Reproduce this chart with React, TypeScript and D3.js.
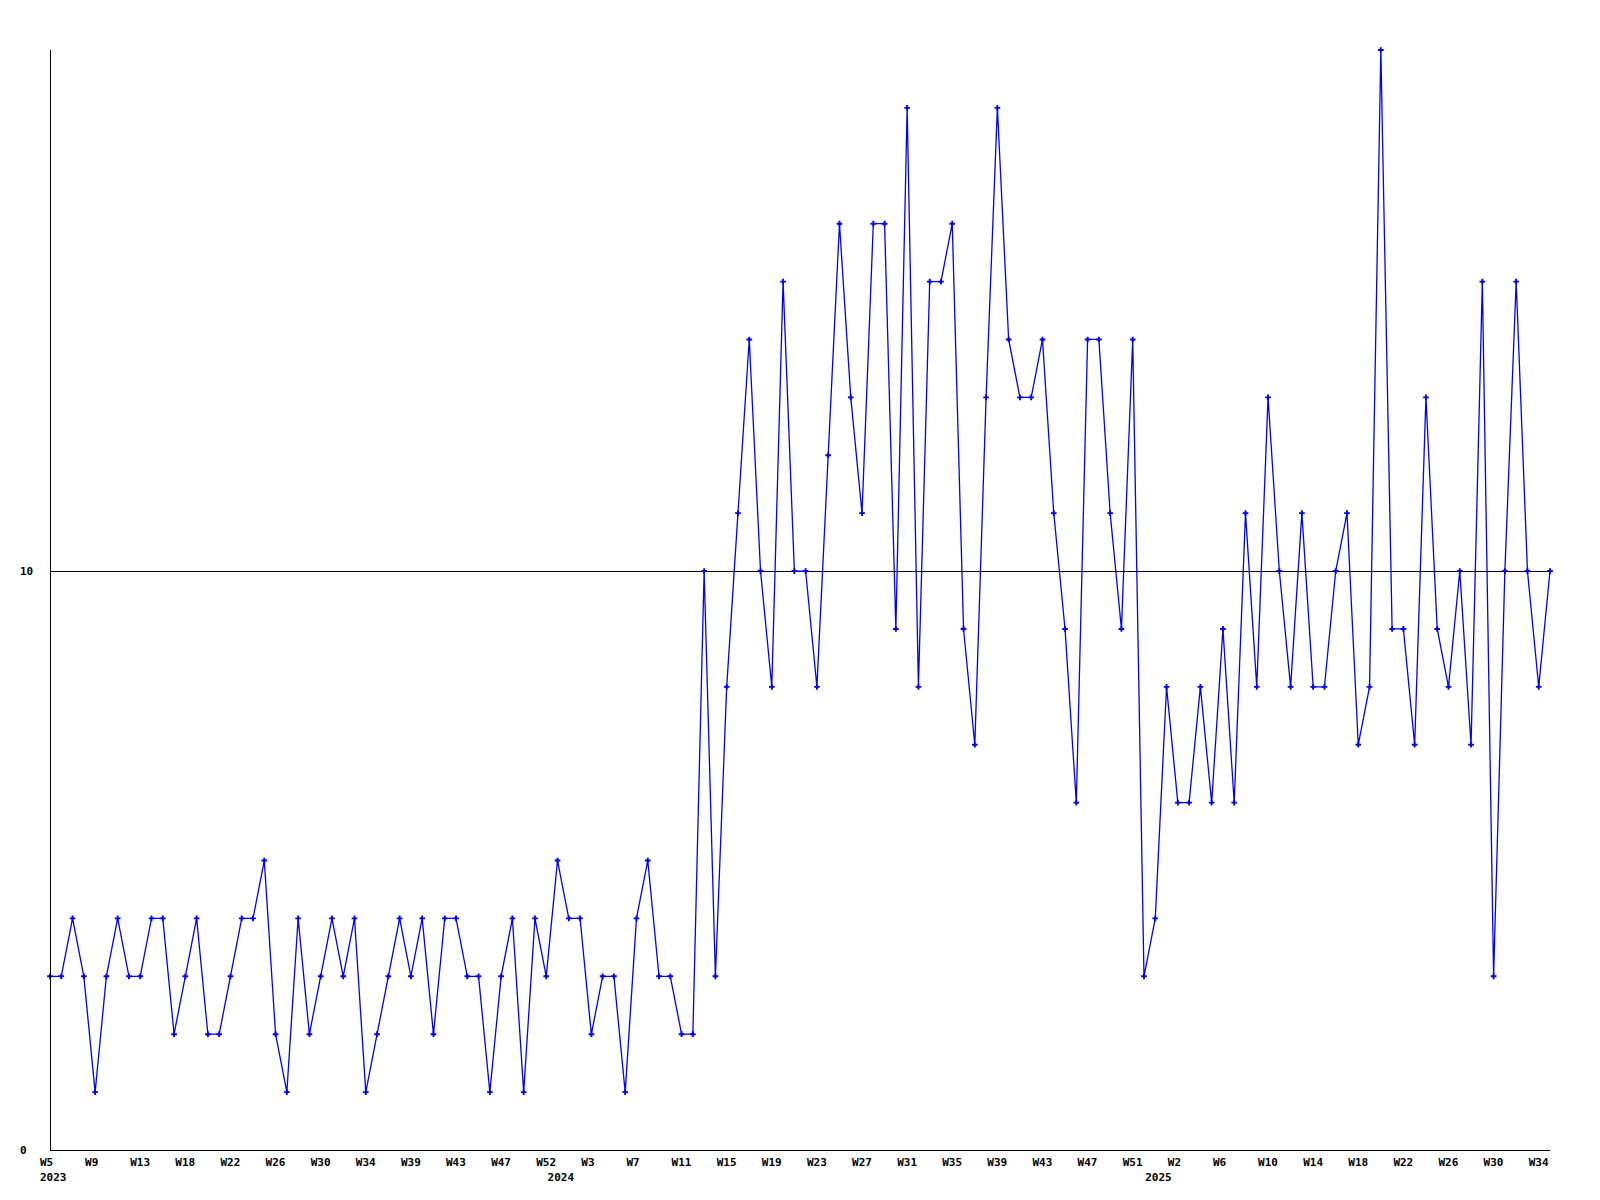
import * as d3 from "d3";

// weekly counts, W5 2023 .. W35 2025
const values: number[] = [
  3, 3, 4, 3, 1, 3, 4, 3, 3, 4, 4, 2, 3, 4, 2, 2, 3, 4, 4, 5,
  2, 1, 4, 2, 3, 4, 3, 4, 1, 2, 3, 4, 3, 4, 2, 4, 4, 3, 3, 1,
  3, 4, 1, 4, 3, 5, 4, 4, 2, 3, 3, 1, 4, 5, 3, 3, 2, 2, 10, 3,
  8, 11, 14, 10, 8, 15, 10, 10, 8, 12, 16, 13, 11, 16, 16, 9, 18, 8, 15, 15,
  16, 9, 7, 13, 18, 14, 13, 13, 14, 11, 9, 6, 14, 14, 11, 9, 14, 3, 4, 8,
  6, 6, 8, 6, 9, 6, 11, 8, 13, 10, 8, 11, 8, 8, 10, 11, 7, 8, 19, 9,
  9, 7, 13, 9, 8, 10, 7, 15, 3, 10, 15, 10, 8, 10,
];

// one label every 4th point
const weekTicks: string[] = [
  "W5", "W9", "W13", "W18", "W22", "W26", "W30", "W34", "W39", "W43", "W47", "W52",
  "W3", "W7", "W11", "W15", "W19", "W23", "W27", "W31", "W35", "W39", "W43", "W47", "W51",
  "W2", "W6", "W10", "W14", "W18", "W22", "W26", "W30", "W34",
];

const years: string[] = ["2023", "2024", "2025"];
const yearStart: number[] = [0, 45, 98];

const yTicks: number[] = [0, 10];

const W = 1600;
const H = 1200;
const margin = { top: 50, right: 50, bottom: 50, left: 50 };
const font = "'DejaVu Sans Mono', monospace";

export default function App() {
  const x = d3
    .scalePoint<number>()
    .domain(d3.range(values.length))
    .range([margin.left, W - margin.right]);
  const y = d3.scaleLinear().domain([0, 19]).range([H - margin.bottom, margin.top]);

  const line = d3
    .line<number>()
    .x((_, i) => x(i)!)
    .y((d) => y(d));

  const marker = d3.symbol().type(d3.symbolCross).size(18)();

  return (
    <svg
      width={W}
      height={H}
      style={{ position: "absolute", left: 0, top: 0, background: "#fff" }}
    >
      {/* reference line at 10 */}
      <line
        x1={margin.left}
        x2={W - margin.right}
        y1={Math.round(y(10)) + 0.5}
        y2={Math.round(y(10)) + 0.5}
        stroke="#000"
        shapeRendering="crispEdges"
      />

      <path d={line(values) ?? ""} fill="none" stroke="#0000ff" strokeWidth={1.3} />
      {values.map((v, i) => (
        <path key={i} d={marker} transform={`translate(${x(i)},${y(v)})`} fill="#0000ff" />
      ))}

      {/* axes */}
      <line
        x1={margin.left + 0.5}
        x2={margin.left + 0.5}
        y1={margin.top}
        y2={H - margin.bottom}
        stroke="#000"
        strokeWidth={1.5}
        shapeRendering="crispEdges"
      />
      <line
        x1={margin.left}
        x2={W - margin.right}
        y1={H - margin.bottom + 0.5}
        y2={H - margin.bottom + 0.5}
        stroke="#000"
        strokeWidth={1.5}
        shapeRendering="crispEdges"
      />

      <g fontFamily={font} fontWeight="bold" fontSize={11} fill="#000">
        {yTicks.map((t) => (
          <text key={t} x={20} y={y(t)} dy="0.36em">
            {t}
          </text>
        ))}
        {weekTicks.map((lbl, k) => (
          <text key={k} x={x(k * 4)! - 10} y={H - margin.bottom + 16}>
            {lbl}
          </text>
        ))}
        {years.map((yr, k) => (
          <text key={yr} x={x(yearStart[k])! - 10} y={H - margin.bottom + 31}>
            {yr}
          </text>
        ))}
      </g>
    </svg>
  );
}
